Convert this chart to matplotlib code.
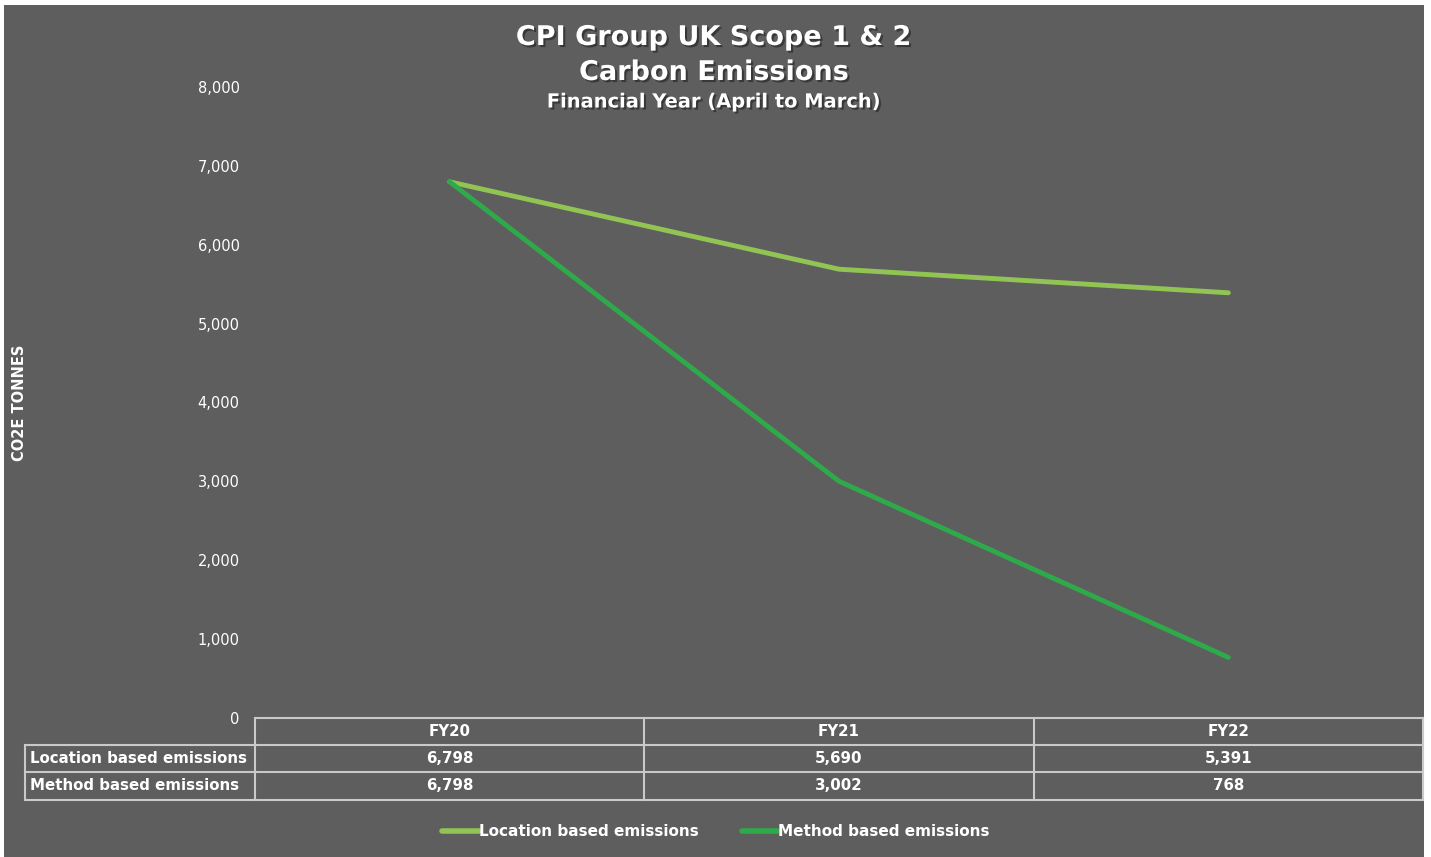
import matplotlib.pyplot as plt
from matplotlib.patches import Rectangle
from matplotlib.lines import Line2D
import matplotlib.patheffects as pe

years = ["FY20", "FY21", "FY22"]
location_based = [6798, 5690, 5391]
method_based = [6798, 3002, 768]
series_names = ["Location based emissions", "Method based emissions"]
yticks = [0, 1000, 2000, 3000, 4000, 5000, 6000, 7000, 8000]

BG = "#5e5e5e"
LIGHT = "#92c453"
DARK = "#2faa4b"
GRID = "#c9c9c9"
FONT = "DejaVu Sans"

W, H = 1431, 857
fig = plt.figure(figsize=(W / 100, H / 100), dpi=100)
fig.patch.set_facecolor("white")


def fx(x):
    return x / W


def fy(y):
    return 1 - y / H


fig.patches.append(Rectangle((fx(4), 0), fx(1424) - fx(4), fy(5), transform=fig.transFigure,
                             facecolor=BG, edgecolor="none", zorder=-5))

ax = fig.add_axes([fx(255), fy(718), fx(1423) - fx(255), fy(87) - fy(718)])
ax.set_zorder(2)
ax.set_facecolor("none")
x = range(len(years))
ax.plot(x, location_based, color=LIGHT, lw=3.5, label=series_names[0], solid_capstyle="round")
ax.plot(x, method_based, color=DARK, lw=3.5, label=series_names[1], solid_capstyle="round")
ax.set_xlim(-0.5, 2.5)
ax.set_ylim(0, 8000)
ax.set_yticks(yticks)
ax.set_yticklabels([f"{v:,}" for v in yticks], color="white", fontsize=10.5, family=FONT)
ax.tick_params(axis="y", length=0, pad=11)
ax.set_xticks([])
for s in ax.spines.values():
    s.set_visible(False)

fig.text(fx(20), fy(403), "CO2E TONNES", rotation=90, ha="center", va="center",
         color="white", fontsize=10.5, fontweight="bold", family=FONT)

# title
shadow = [pe.withSimplePatchShadow(offset=(1.5, -1.5), shadow_rgbFace="black", alpha=0.4)]
fig.text(fx(714), fy(38), "CPI Group UK Scope 1 & 2", ha="center", va="center", color="white",
         fontsize=19.5, fontweight="bold", family=FONT, path_effects=shadow)
fig.text(fx(714), fy(73), "Carbon Emissions", ha="center", va="center", color="white",
         fontsize=19.5, fontweight="bold", family=FONT, path_effects=shadow)
fig.text(fx(714), fy(102), "Financial Year (April to March)", ha="center", va="center", color="white",
         fontsize=14, fontweight="bold", family=FONT, path_effects=shadow)

# data table below the plot
col_edges = [255, 644, 1034, 1423]
row_edges = [718, 745, 772, 800]
lkw = dict(color=GRID, lw=1.5, transform=fig.transFigure)
fig.lines.append(Line2D([fx(255), fx(1423)], [fy(718)] * 2, **lkw))
for yy in row_edges[1:]:
    fig.lines.append(Line2D([fx(25), fx(1423)], [fy(yy)] * 2, **lkw))
fig.lines.append(Line2D([fx(25)] * 2, [fy(745), fy(800)], **lkw))
for xx in col_edges:
    fig.lines.append(Line2D([fx(xx)] * 2, [fy(718), fy(800)], **lkw))

tkw = dict(color="white", fontsize=10.8, fontweight="bold", family=FONT, va="center")
for i, yr in enumerate(years):
    cx = (col_edges[i] + col_edges[i + 1]) / 2
    fig.text(fx(cx), fy(731.5), yr, ha="center", **tkw)
    fig.text(fx(cx), fy(758.5), f"{location_based[i]:,}", ha="center", **tkw)
    fig.text(fx(cx), fy(786), f"{method_based[i]:,}", ha="center", **tkw)
fig.text(fx(30), fy(758.5), series_names[0], ha="left", **tkw)
fig.text(fx(30), fy(786), series_names[1], ha="left", **tkw)

leg = fig.legend(loc="center", bbox_to_anchor=(fx(716), fy(832)), ncol=2, frameon=False,
                 handlelength=2.4, handletextpad=0.0, columnspacing=2.8,
                 prop={"family": FONT, "weight": "bold", "size": 11})
for t in leg.get_texts():
    t.set_color("white")
for h in leg.legend_handles:
    h.set_linewidth(4)

fig.savefig("out.png", dpi=100, facecolor=fig.get_facecolor())
